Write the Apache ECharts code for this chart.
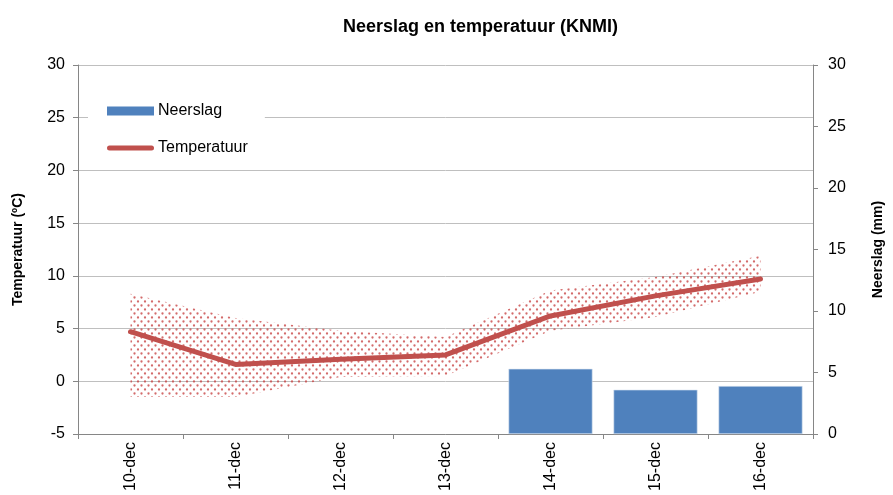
<!DOCTYPE html>
<html>
<head>
<meta charset="utf-8">
<script src="https://cdn.jsdelivr.net/npm/echarts@6/dist/echarts.min.js"></script>
<style>
  html, body { margin: 0; padding: 0; background: #fff; }
  #chart_1 { width: 893px; height: 495px; }
</style>
</head>
<body>
<div id="chart_1"></div>
<script>
var days = ['10-dec', '11-dec', '12-dec', '13-dec', '14-dec', '15-dec', '16-dec'];
var neerslag = [null, null, null, null, 5.3, 3.6, 3.9];
var temperatuur = [4.7, 1.6, 2.1, 2.5, 6.2, 8.1, 9.7];
var tempMin = [-1.5, -1.5, 0.4, 0.5, 4.8, 6.1, 8.5];
var tempMax = [8.3, 6.0, 4.8, 4.2, 8.6, 9.9, 11.9];

// stippelpatroon voor de band
function dotPattern() {
    var c = document.createElement('canvas');
    c.width = 7;
    c.height = 8;
    var ctx = c.getContext('2d');
    ctx.fillStyle = 'rgba(200, 70, 70, 0.8)';
    ctx.beginPath();
    ctx.arc(1.5, 1.5, 1.15, 0, Math.PI * 2);
    ctx.fill();
    ctx.beginPath();
    ctx.arc(5, 5.5, 1.15, 0, Math.PI * 2);
    ctx.fill();
    return c;
}

var bandDiff = tempMax.map(function (v, i) { return +(v - tempMin[i]).toFixed(2); });

var myChart = echarts.init(document.getElementById('chart_1'));
var option = {
    backgroundColor: '#fff',
    animation: false,
    textStyle: { fontFamily: 'Liberation Sans, Arial, sans-serif' },
    title: {
        text: 'Neerslag en temperatuur (KNMI)',
        left: 338,
        top: 13,
        textStyle: { fontSize: 18, fontWeight: 'bold', color: '#000' }
    },
    legend: {
        data: [
            { name: 'Neerslag', icon: 'rect', itemStyle: { borderWidth: 0 } },
            { name: 'Temperatuur', icon: 'path://M2.5,0 L44.5,0 A2.5,2.5 0 0 1 44.5,5 L2.5,5 A2.5,2.5 0 0 1 2.5,0 Z', itemStyle: { color: '#c0504d' } }
        ],
        orient: 'vertical',
        left: 88,
        top: 96,
        padding: [7, 17, 7, 19],
        itemWidth: 47,
        itemHeight: 9,
        itemGap: 21,
        backgroundColor: '#fff',
        textStyle: { fontSize: 16, color: '#000', padding: [0, 0, 0, -1] }
    },
    grid: { left: 78, right: 75, top: 65, bottom: 61 },
    xAxis: {
        type: 'category',
        data: days,
        boundaryGap: true,
        axisLine: { onZero: false, lineStyle: { color: '#868686' } },
        axisTick: { show: true, length: 5, lineStyle: { color: '#868686' } },
        axisLabel: { rotate: 90, fontSize: 16, color: '#000', margin: 8 },
        splitLine: { show: false }
    },
    yAxis: [
        {
            type: 'value',
            min: -5,
            max: 30,
            interval: 5,
            name: 'Temperatuur (ºC)',
            nameLocation: 'middle',
            nameGap: 53,
            nameTextStyle: { fontSize: 14, fontWeight: 'bold', color: '#000' },
            axisLine: { show: true, lineStyle: { color: '#868686' } },
            axisTick: { show: true, length: 5, lineStyle: { color: '#868686' } },
            axisLabel: { fontSize: 16, color: '#000', margin: 13 },
            splitLine: { lineStyle: { color: '#bfbfbf' } }
        },
        {
            type: 'value',
            min: 0,
            max: 30,
            interval: 5,
            position: 'right',
            name: 'Neerslag (mm)',
            nameLocation: 'middle',
            nameGap: 58,
            nameRotate: 90,
            nameTextStyle: { fontSize: 14, fontWeight: 'bold', color: '#000' },
            axisLine: { show: true, lineStyle: { color: '#868686' } },
            axisTick: { show: true, length: 5, lineStyle: { color: '#868686' } },
            axisLabel: { fontSize: 16, color: '#000', margin: 15 },
            splitLine: { show: false }
        }
    ],
    series: [
        {
            name: 'band_min',
            type: 'line',
            yAxisIndex: 0,
            data: tempMin,
            stack: 'band',
            stackStrategy: 'all',
            symbol: 'none',
            lineStyle: { opacity: 0 },
            silent: true,
            z: 1
        },
        {
            name: 'band',
            type: 'line',
            yAxisIndex: 0,
            data: bandDiff,
            stack: 'band',
            stackStrategy: 'all',
            symbol: 'none',
            lineStyle: { opacity: 0 },
            areaStyle: { color: { image: dotPattern(), repeat: 'repeat' }, opacity: 1 },
            silent: true,
            z: 1
        },
        {
            name: 'Neerslag',
            type: 'bar',
            yAxisIndex: 1,
            data: neerslag,
            barCategoryGap: '20%',
            itemStyle: { color: '#4f81bd', borderColor: '#d7e2f0', borderWidth: 0.6 },
            z: 2
        },
        {
            name: 'Temperatuur',
            type: 'line',
            yAxisIndex: 0,
            data: temperatuur,
            symbol: 'none',
            color: '#c0504d',
            lineStyle: { color: '#c0504d', width: 5, cap: 'round' },
            z: 3
        }
    ]
};

if (option && typeof option === 'object')
    myChart.setOption(option);
window.addEventListener("resize", function () {
    myChart.resize();
});
</script>
</body>
</html>
